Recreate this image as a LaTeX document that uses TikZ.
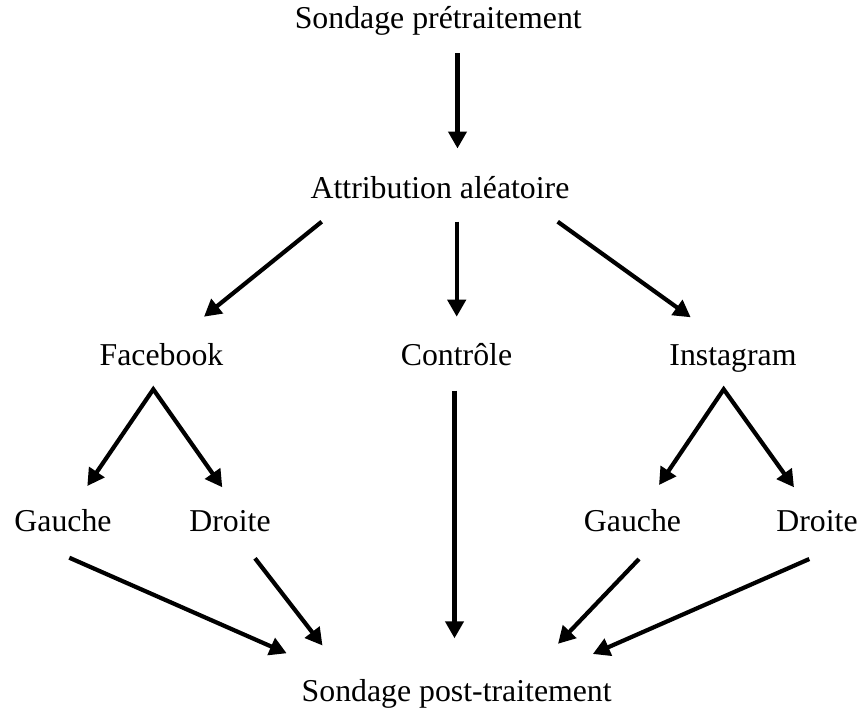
\documentclass[tikz,border=0pt]{standalone}
\usepackage{fontspec}
\setmainfont{Liberation Serif}
\usetikzlibrary{arrows.meta}
\begin{document}
\begin{tikzpicture}[x=0.5pt,y=-0.5pt,
  lbl/.style={inner sep=0pt,anchor=base,font=\fontsize{15.9}{19}\selectfont},
  tip/.style={},
  arr/.style={line width=2.1pt,-{Triangle[length=8.5pt,width=9pt]}},
  darr/.style={line width=2.1pt,{Triangle[length=8.5pt,width=9pt]}-{Triangle[length=8.5pt,width=9pt]}}]
\useasboundingbox (0,0) rectangle (863,709);
% text nodes
\node[lbl] (pre) at (438.3,28.5) {Sondage prétraitement};
\node[lbl] (attr) at (440,198) {Attribution aléatoire};
\node[lbl] (fb) at (161.5,365) {Facebook};
\node[lbl] (ctl) at (456.5,365) {Contrôle};
\node[lbl] (ig) at (733,365) {Instagram};
\node[lbl] (fbg) at (63,531.7) {Gauche};
\node[lbl] (fbd) at (230,531.7) {Droite};
\node[lbl] (igg) at (632.5,531.7) {Gauche};
\node[lbl] (igd) at (817,531.7) {Droite};
\node[lbl] (post) at (456.7,701.7) {Sondage post-traitement};
% connector end points
\coordinate (preS) at (457.5,53);
\coordinate (attrN) at (457.5,148.5);
\coordinate (attrL) at (321.7,221.7);
\coordinate (attrC) at (456.7,221.7);
\coordinate (attrR) at (557.7,221.7);
\coordinate (fbN) at (204,316.7);
\coordinate (ctlN) at (456.7,316.7);
\coordinate (igN) at (690.7,317.3);
\coordinate (fbS) at (153.3,389.3);
\coordinate (fbgN) at (87.3,486);
\coordinate (fbdN) at (222.3,487.3);
\coordinate (igS) at (723.7,389.3);
\coordinate (iggN) at (659,485);
\coordinate (igdN) at (794,487.3);
\coordinate (fbgS) at (69.3,557.7);
\coordinate (fbdS) at (255,558.3);
\coordinate (ctlS) at (454.5,390.7);
\coordinate (iggS) at (639,559);
\coordinate (igdS) at (809.3,559);
\coordinate (postA) at (286.7,653.3);
\coordinate (postB) at (322.5,645.5);
\coordinate (postC) at (454.5,638.3);
\coordinate (postD) at (558,643.8);
\coordinate (postE) at (592.8,654);
% connectors
\draw[arr] (preS) -- (attrN);
\draw[arr] (attrL) -- (fbN);
\draw[arr] (attrC) -- (ctlN);
\draw[arr] (attrR) -- (igN);
\draw[darr] (fbgN) -- (fbS) -- (fbdN);
\draw[darr] (iggN) -- (igS) -- (igdN);
\draw[arr] (fbgS) -- (postA);
\draw[arr] (fbdS) -- (postB);
\draw[arr] (ctlS) -- (postC);
\draw[arr] (iggS) -- (postD);
\draw[arr] (igdS) -- (postE);
\end{tikzpicture}
\end{document}
